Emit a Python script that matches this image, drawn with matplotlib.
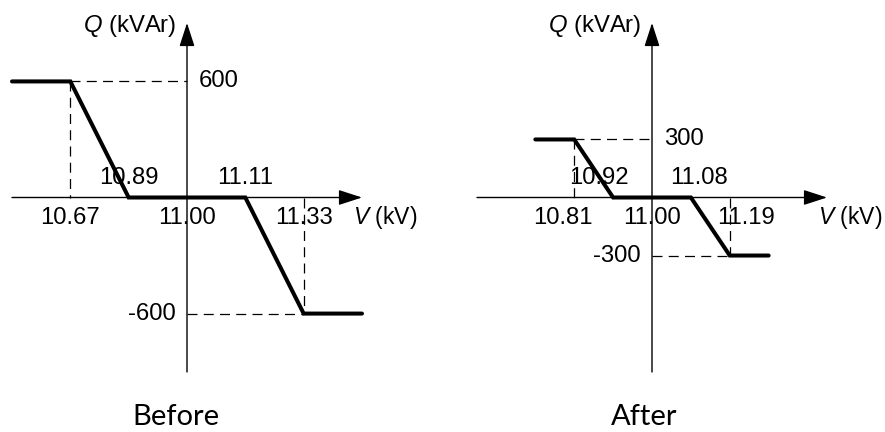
import numpy as np
import matplotlib

matplotlib.use("Agg")
import matplotlib.pyplot as plt

plt.rcParams["font.family"] = ["Liberation Sans", "DejaVu Sans"]
plt.rcParams["mathtext.fontset"] = "custom"
plt.rcParams["mathtext.it"] = "Liberation Sans:italic"
plt.rcParams["mathtext.rm"] = "Liberation Sans"

# Volt-var curves, voltage in kV and reactive power in kVAr
before_v_ticks = [10.67, 10.89, 11.00, 11.11, 11.33]
before_v = [10.45, 10.67, 10.89, 11.11, 11.33, 11.55]
before_q = [600, 600, 0, 0, -600, -600]
before_q_max = 600

after_v_ticks = [10.81, 10.92, 11.00, 11.08, 11.19]
after_v = [10.70, 10.81, 10.92, 11.08, 11.19, 11.30]
after_q = [300, 300, 0, 0, -300, -300]
after_q_max = 300

titles = ["Before", "After"]

PX = 0.72  # points per pixel at dpi 100


def schematic_scale(knots):
    # the drawing is not to scale: tick voltages are equally spaced
    knots = np.asarray(knots, float)
    units = np.arange(len(knots)) - (len(knots) - 1) / 2
    lo_slope = (units[1] - units[0]) / (knots[1] - knots[0])
    hi_slope = (units[-1] - units[-2]) / (knots[-1] - knots[-2])

    def forward(v):
        v = np.asarray(v, float)
        u = np.interp(v, knots, units)
        u = np.where(v < knots[0], units[0] + (v - knots[0]) * lo_slope, u)
        u = np.where(v > knots[-1], units[-1] + (v - knots[-1]) * hi_slope, u)
        return u

    def inverse(u):
        u = np.asarray(u, float)
        v = np.interp(u, units, knots)
        v = np.where(u < units[0], knots[0] + (u - units[0]) / lo_slope, v)
        v = np.where(u > units[-1], knots[-1] + (u - units[-1]) / hi_slope, v)
        return v

    return forward, inverse


def label(ax, text, xy, dx, dy, ha="center", size=17.2, **kw):
    ax.annotate(
        text,
        xy=xy,
        xycoords="data",
        xytext=(dx * PX, dy * PX),
        textcoords="offset points",
        ha=ha,
        va="center",
        fontsize=size,
        annotation_clip=False,
        **kw,
    )


def panel(ax, v_ticks, v, q, q_max, half_units, label_dx):
    fwd, inv = schematic_scale(v_ticks)
    ax.set_xscale("function", functions=(fwd, inv))
    xmin, xmax = float(inv(-half_units)), float(inv(half_units))
    ax.set_xlim(xmin, xmax)
    ax.set_ylim(-902, 902)
    ax.axis("off")
    v0 = v_ticks[2]

    arrow = dict(
        arrowstyle="-|>,head_length=1.45,head_width=0.47",
        mutation_scale=10,
        lw=1.0,
        color="black",
        shrinkA=0,
        shrinkB=0,
    )
    ax.annotate("", xy=(xmax, 0), xytext=(xmin, 0), arrowprops=arrow, annotation_clip=False)
    ax.annotate("", xy=(v0, 902), xytext=(v0, -902), arrowprops=arrow, annotation_clip=False)

    dash = dict(color="black", lw=0.9, linestyle=(0, (8, 5)), clip_on=False)
    ax.plot([v_ticks[0], v0], [q_max, q_max], **dash)
    ax.plot([v_ticks[0], v_ticks[0]], [q_max, 0], **dash)
    ax.plot([v0, v_ticks[-1]], [-q_max, -q_max], **dash)
    ax.plot([v_ticks[-1], v_ticks[-1]], [0, -q_max], **dash)

    ax.plot(v, q, color="black", lw=2.9, solid_capstyle="round",
            solid_joinstyle="miter", clip_on=False, zorder=3)

    # tick labels: outer ones below the axis, inner break points above it
    for i, t in enumerate(v_ticks):
        dy = 20 if i in (1, 3) else -20
        label(ax, f"{t:.2f}", (t, 0), label_dx[i], dy)
    label(ax, f"{q_max}", (v0, q_max), 12, 0, ha="left")
    label(ax, f"-{q_max}", (v0, -q_max), -11, 0, ha="right")
    label(ax, "$Q$ (kVAr)", (v0, 902), -11, -3, ha="right")
    label(ax, "$V$ (kV)", (xmax, 0), -9, -20, ha="left", size=16.6)


fig = plt.figure(figsize=(8.85, 4.32), dpi=100)
ax1 = fig.add_axes([12 / 885, 60 / 432, 350 / 885, 349 / 432])
ax2 = fig.add_axes([477 / 885, 60 / 432, 350 / 885, 349 / 432])

panel(ax1, before_v_ticks, before_v, before_q, before_q_max, 3.0, [0, 0, 0, 0, 0])
panel(ax2, after_v_ticks, after_v, after_q, after_q_max, 4.5, [-11, -14, 0, 8, 16])

for x, t in zip([175.5, 644], titles):
    fig.text(x / 885, 7 / 432, t, ha="center", va="baseline",
             fontsize=21, family=["Lato", "DejaVu Sans"])

fig.savefig("out.png", dpi=100, facecolor="white")
